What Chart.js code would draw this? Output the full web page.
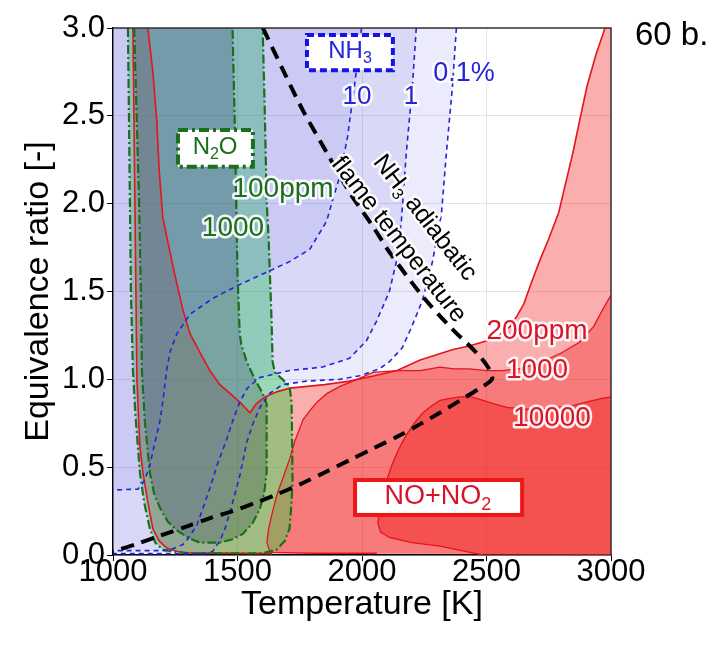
<!DOCTYPE html>
<html>
<head>
<meta charset="utf-8">
<script src="https://cdn.jsdelivr.net/npm/chart.js@4.4.1/dist/chart.umd.min.js"></script>
<style>
body { margin: 0; background: #fff; }
#wrap { width: 720px; height: 645px; }
</style>
</head>
<body>
<div id="wrap"><canvas id="myChart" width="720" height="645"></canvas></div>
<script>
// axis ticks
const xTicks = [1000, 1500, 2000, 2500, 3000];
const yTicks = [0, 0.5, 1.0, 1.5, 2.0, 2.5, 3.0];

// NH3 contours, [temperature K, equivalence ratio]
const nh3_10 = [[1998,3.0],[1978,2.76],[1942,2.38],[1910,2.15],[1882,2.02],[1858,1.9],[1790,1.74],[1709,1.67],[1617,1.61],[1509,1.54],[1400,1.46],[1309,1.37],[1257,1.26],[1230,1.16],[1216,1.06],[1200,0.87],[1188,0.76],[1165,0.62],[1148,0.51],[1128,0.43],[1116,0.40],[1100,0.375],[1000,0.37]];
const nh3_1 = [[2218,3.0],[2202,2.66],[2178,2.29],[2158,1.9],[2138,1.67],[2110,1.5],[2058,1.33],[2018,1.22],[1950,1.12],[1842,1.07],[1709,1.05],[1589,1.01],[1540,0.95],[1509,0.87],[1480,0.76],[1457,0.66],[1420,0.52],[1389,0.38],[1360,0.26],[1337,0.17],[1300,0.09],[1281,0.06],[1240,0.035],[1216,0.025],[1000,0.025]];
const nh3_01 = [[2379,3.0],[2363,2.66],[2339,2.29],[2319,1.94],[2283,1.67],[2243,1.45],[2200,1.3],[2162,1.18],[2110,1.1],[2070,1.06],[1990,1.02],[1910,1.0],[1778,0.99],[1681,0.97],[1629,0.92],[1590,0.84],[1560,0.74],[1537,0.64],[1509,0.45],[1481,0.3],[1450,0.15],[1429,0.08],[1400,0.02],[1380,0.008],[1000,0.008]];

// N2O contours
const n2o_100 = [[1060,3.0],[1064,2.5],[1068,2.0],[1072,1.5],[1080,1.05],[1090,0.8],[1108,0.47],[1125,0.3],[1148,0.15],[1170,0.07],[1200,0.03],[1289,0.01],[1450,0.01],[1601,0.01],[1657,0.03],[1690,0.08],[1709,0.15],[1717,0.3],[1721,0.42],[1720,0.6],[1717,0.87],[1709,0.96],[1681,1.0],[1650,1.04],[1641,1.1],[1637,1.33],[1625,1.8],[1617,2.02],[1610,2.5],[1601,3.0]];
const n2o_1000 = [[1085,3.0],[1095,2.5],[1105,2.0],[1112,1.5],[1116,1.05],[1128,0.76],[1148,0.47],[1165,0.35],[1188,0.27],[1220,0.19],[1257,0.14],[1300,0.1],[1349,0.07],[1429,0.07],[1480,0.09],[1521,0.12],[1560,0.18],[1589,0.26],[1607,0.35],[1617,0.47],[1617,0.86],[1601,0.92],[1570,1.0],[1537,1.1],[1515,1.2],[1509,1.26],[1500,1.6],[1497,1.83],[1490,2.4],[1480,3.0]];

// NO+NO2 contours
const no200_left = [[1080,3.0],[1084,2.5],[1088,2.0],[1092,1.5],[1096,1.0],[1108,0.62],[1120,0.47],[1140,0.3],[1160,0.15],[1185,0.08],[1216,0.04],[1260,0.02],[1300,0.012],[1640,0.008]];
const no200_right = [[2976,3.0],[2940,2.85],[2904,2.67],[2875,2.48],[2847,2.29],[2815,2.1],[2790,1.95],[2750,1.8],[2715,1.68],[2680,1.55],[2650,1.43],[2622,1.36],[2594,1.3],[2550,1.25],[2502,1.22],[2430,1.19],[2365,1.17],[2300,1.14],[2233,1.11],[2141,1.05],[2050,1.02],[1950,0.99],[1850,0.97],[1780,0.96],[1711,0.95],[1660,0.93],[1610,0.9],[1575,0.86],[1550,0.81],[1530,0.84],[1509,0.87],[1470,0.92],[1429,0.97],[1389,1.05],[1350,1.15],[1309,1.26],[1280,1.4],[1257,1.54],[1240,1.65],[1228,1.73],[1200,1.92],[1185,2.2],[1176,2.47],[1160,2.75],[1140,3.0]];
const no1000 = [[3000,1.48],[2960,1.38],[2930,1.3],[2872,1.21],[2800,1.15],[2739,1.11],[2680,1.08],[2631,1.06],[2563,1.05],[2500,1.05],[2431,1.06],[2370,1.06],[2313,1.07],[2233,1.05],[2140,1.05],[2044,1.04],[1980,1.0],[1912,0.96],[1860,0.92],[1819,0.87],[1790,0.82],[1763,0.77],[1731,0.65],[1710,0.55],[1683,0.44],[1660,0.35],[1643,0.26],[1625,0.15],[1618,0.07],[1631,0.015],[1800,0.01],[2060,0.01]];
const no10000 = [[3000,0.9],[2960,0.89],[2900,0.87],[2847,0.85],[2780,0.84],[2715,0.83],[2650,0.83],[2582,0.84],[2530,0.86],[2486,0.88],[2440,0.9],[2394,0.9],[2350,0.89],[2313,0.88],[2280,0.85],[2245,0.81],[2210,0.75],[2181,0.69],[2150,0.61],[2122,0.52],[2100,0.43],[2085,0.33],[2070,0.25],[2064,0.18],[2075,0.13],[2110,0.1],[2200,0.07],[2313,0.05],[2400,0.025],[2486,0.0]];

// NH3 adiabatic flame temperature
const flameT = [[1602,3.0],[1683,2.76],[1763,2.53],[1859,2.29],[1952,2.06],[2044,1.87],[2112,1.72],[2245,1.47],[2353,1.3],[2474,1.13],[2514,1.05],[2522,1.0],[2474,0.95],[2394,0.88],[2313,0.81],[2233,0.745],[2150,0.68],[2050,0.61],[1950,0.54],[1850,0.47],[1763,0.41],[1650,0.34],[1578,0.3],[1480,0.25],[1390,0.21],[1300,0.165],[1189,0.11],[1100,0.065],[1000,0.02]];

const FONT = 'Liberation Sans, Arial, sans-serif';

function xy(pts) {
    return pts.map(p => ({x: p[0], y: p[1]}));
}

function fillSet(pts, color, order) {
    return {data: xy(pts), fill: 'shape', backgroundColor: color, borderColor: 'transparent',
        borderWidth: 0, pointRadius: 0, order: order};
}

function lineSet(pts, color, width, dash, order, tension) {
    return {data: xy(pts), fill: false, borderColor: color, borderWidth: width, borderDash: dash,
        pointRadius: 0, order: order, tension: tension || 0};
}

const RED_FILL = 'rgba(240,30,30,0.36)';
const BLUE_FILL = 'rgba(90,90,225,0.12)';
const BLUE = '#2424d8';
const GREEN = '#1b6e1b';
const RED = '#e5141e';
const RED_TEXT = '#d8142a';

const datasets = [
    // fills, bottom to top: red, green, blue
    fillSet(no200_left.concat([[3000,0],[3000,3.0]], no200_right), RED_FILL, 40),
    fillSet(no1000.concat([[3000,0]]), RED_FILL, 39),
    fillSet(no10000.concat([[3000,0]]), 'rgba(240,30,30,0.45)', 38),
    fillSet(n2o_100, 'rgba(40,210,70,0.42)', 37),
    fillSet(n2o_1000, 'rgba(55,85,80,0.34)', 36),
    fillSet(nh3_01.concat([[1000,3.0]]), BLUE_FILL, 35),
    fillSet(nh3_1.concat([[1000,3.0]]), BLUE_FILL, 34),
    fillSet(nh3_10.concat([[1000,3.0]]), BLUE_FILL, 33),
    // contour lines
    lineSet(no200_left, RED, 1.6, [], 6),
    lineSet(no200_right, RED, 1.6, [], 6),
    lineSet(no1000, RED, 1.3, [], 6),
    lineSet(no10000, RED, 1.3, [], 6),
    lineSet(n2o_100, GREEN, 2.2, [9,3,2,3], 5),
    lineSet(n2o_1000, GREEN, 2.2, [9,3,2,3], 5),
    lineSet(nh3_01, BLUE, 1.6, [5,4], 4),
    lineSet(nh3_1, BLUE, 1.6, [5,4], 4),
    lineSet(nh3_10, BLUE, 1.6, [5,4], 4),
    lineSet(flameT, '#000', 4, [13,8], 0, 0.3)
];

// text made of [string, isSubscript] parts
function partsWidth(ctx, parts, size) {
    let w = 0;
    parts.forEach(p => {
        ctx.font = (p[1] ? Math.round(size * 0.65) : size) + 'px ' + FONT;
        w += ctx.measureText(p[0]).width;
    });
    return w;
}

function drawParts(ctx, parts, x, y, size, color, halo) {
    let cx = x;
    ctx.textAlign = 'left';
    ctx.textBaseline = 'middle';
    parts.forEach(p => {
        const s = p[1] ? Math.round(size * 0.65) : size;
        const dy = p[1] ? size * 0.3 : 0;
        ctx.font = s + 'px ' + FONT;
        if (halo) {
            ctx.lineJoin = 'round';
            ctx.lineWidth = 5;
            ctx.strokeStyle = 'rgba(255,255,255,0.9)';
            ctx.strokeText(p[0], cx, y + dy);
        }
        ctx.fillStyle = color;
        ctx.fillText(p[0], cx, y + dy);
        cx += ctx.measureText(p[0]).width;
    });
}

function centered(ctx, parts, x, y, size, color, halo) {
    const w = partsWidth(ctx, parts, size);
    drawParts(ctx, parts, x - w / 2, y, size, color, halo);
}

const labelPlugin = {
    id: 'labels',
    afterDatasetsDraw(chart) {
        const ctx = chart.ctx;
        const sx = chart.scales.x, sy = chart.scales.y;
        const px = v => sx.getPixelForValue(v);
        const py = v => sy.getPixelForValue(v);
        ctx.save();

        // boxes
        function box(t1, t2, p1, p2, color, dash) {
            const x1 = px(t1), x2 = px(t2), y1 = py(p1), y2 = py(p2);
            ctx.setLineDash([]);
            ctx.fillStyle = '#fff';
            ctx.fillRect(x1, y1, x2 - x1, y2 - y1);
            ctx.setLineDash(dash);
            ctx.lineWidth = 4;
            ctx.strokeStyle = color;
            ctx.strokeRect(x1, y1, x2 - x1, y2 - y1);
            ctx.setLineDash([]);
        }
        box(1779, 2124, 2.96, 2.76, '#1414e6', [7,4]);
        centered(ctx, [['NH',0],['3',1]], px(1952), py(2.865), 24, BLUE, false);
        box(1261, 1562, 2.42, 2.21, GREEN, [10,4,3,4]);
        centered(ctx, [['N',0],['2',1],['O',0]], px(1410), py(2.318), 24, GREEN, false);
        box(1972, 2643, 0.427, 0.228, '#ec1818', []);
        centered(ctx, [['NO+NO',0],['2',1]], px(2305), py(0.33), 27, RED_TEXT, false);

        // contour labels
        centered(ctx, [['10',0]], px(1980), py(2.61), 26, BLUE, true);
        centered(ctx, [['1',0]], px(2197), py(2.61), 26, BLUE, true);
        centered(ctx, [['0.1%',0]], px(2410), py(2.74), 27, BLUE, true);
        centered(ctx, [['100ppm',0]], px(1683), py(2.084), 28, GREEN, true);
        centered(ctx, [['1000',0]], px(1482), py(1.862), 28, GREEN, true);
        centered(ctx, [['200ppm',0]], px(2703), py(1.276), 28, RED_TEXT, true);
        centered(ctx, [['1000',0]], px(2703), py(1.054), 28, RED_TEXT, true);
        centered(ctx, [['10000',0]], px(2763), py(0.78), 28, RED_TEXT, true);

        // rotated flame temperature label
        const ang = 52 * Math.PI / 180;
        ctx.save();
        ctx.translate(px(2064), py(2.26));
        ctx.rotate(ang);
        drawParts(ctx, [['NH',0],['3',1],[' adiabatic',0]], 0, 0, 25, '#000', true);
        ctx.restore();
        ctx.save();
        ctx.translate(px(1896), py(2.25));
        ctx.rotate(ang);
        drawParts(ctx, [['flame temperature',0]], 0, 0, 25, '#000', true);
        ctx.restore();

        ctx.restore();
    },
    afterDraw(chart) {
        const ctx = chart.ctx;
        const a = chart.chartArea;
        ctx.save();
        ctx.strokeStyle = '#333';
        ctx.lineWidth = 1.5;
        ctx.beginPath();
        ctx.moveTo(a.left, a.top);
        ctx.lineTo(a.right, a.top);
        ctx.lineTo(a.right, a.bottom);
        ctx.stroke();
        ctx.fillStyle = '#000';
        ctx.font = '33px ' + FONT;
        ctx.textAlign = 'left';
        ctx.textBaseline = 'middle';
        ctx.fillText('60 b.', 635, 36);
        ctx.restore();
    }
};

new Chart('myChart', {
    type: 'line',
    data: {datasets: datasets},
    options: {
        responsive: false,
        animation: false,
        layout: {padding: {top: 28, right: 109, left: 0, bottom: 0}},
        plugins: {
            legend: {display: false},
            tooltip: {enabled: false},
            filler: {drawTime: 'beforeDatasetsDraw'}
        },
        scales: {
            x: {
                type: 'linear',
                min: xTicks[0],
                max: xTicks[xTicks.length - 1],
                afterBuildTicks: s => { s.ticks = xTicks.map(v => ({value: v})); },
                afterFit: s => { s.height = 90; },
                ticks: {font: {family: FONT, size: 31, lineHeight: 1}, color: '#000', padding: -4,
                    maxRotation: 0, autoSkip: false, callback: v => String(v)},
                grid: {color: '#e4e4e4', tickColor: '#000', tickLength: 6},
                border: {color: '#000', width: 1.5},
                title: {display: true, text: 'Temperature [K]', color: '#000',
                    font: {family: FONT, size: 34, lineHeight: 1.2}, padding: {top: 0, bottom: 20}}
            },
            y: {
                type: 'linear',
                min: yTicks[0],
                max: yTicks[yTicks.length - 1],
                afterBuildTicks: s => { s.ticks = yTicks.map(v => ({value: v})); },
                afterFit: s => { s.width = 113; },
                ticks: {font: {family: FONT, size: 31, lineHeight: 1}, color: '#000', padding: 2,
                    callback: v => v.toFixed(1)},
                grid: {color: '#e4e4e4', tickColor: '#000', tickLength: 6},
                border: {color: '#000', width: 1.5},
                title: {display: true, text: 'Equivalence ratio [-]', color: '#000',
                    font: {family: FONT, size: 34, lineHeight: 1.2}, padding: {top: 18, bottom: 0}}
            }
        }
    },
    plugins: [labelPlugin]
});
</script>
</body>
</html>
